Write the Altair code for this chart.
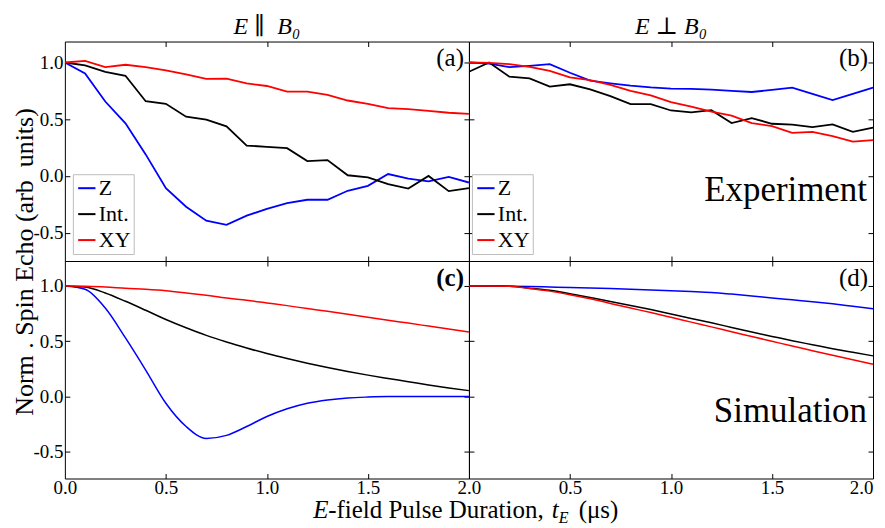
import altair as alt
import pandas as pd

# ---------------- data ----------------
T = [0.0, 0.1, 0.2, 0.3, 0.4, 0.5, 0.6, 0.7, 0.8, 0.9, 1.0,
     1.1, 1.2, 1.3, 1.4, 1.5, 1.6, 1.7, 1.8, 1.9, 2.0]
SERIES = ["Z", "Int.", "XY"]
COLORS = ["#0000ff", "#000000", "#ff0000"]

# (a) Experiment, E || B0
a_Z = [1.0, 0.904, 0.656, 0.464, 0.19, -0.108, -0.271, -0.394, -0.431, -0.35, -0.29,
       -0.239, -0.21, -0.21, -0.131, -0.087, 0.017, -0.023, -0.047, -0.009, -0.058]
a_Int = [1.0, 0.974, 0.918, 0.883, 0.659, 0.636, 0.522, 0.496, 0.437, 0.268, 0.257,
         0.245, 0.131, 0.14, 0.006, -0.012, -0.073, -0.111, 0.0, -0.134, -0.108]
a_XY = [1.0, 1.015, 0.96, 0.98, 0.96, 0.93, 0.895, 0.855, 0.857, 0.816, 0.793,
        0.743, 0.743, 0.714, 0.665, 0.636, 0.598, 0.589, 0.574, 0.557, 0.548]

# (b) Experiment, E _|_ B0
b_Z = [1.0, 0.991, 0.959, 0.971, 0.985, 0.91, 0.84, 0.816, 0.796, 0.781, 0.77,
       0.767, 0.761, 0.749, 0.74, 0.758, 0.778, 0.723, 0.668, 0.723, 0.778]
b_Int = [0.918, 1.0, 0.875, 0.86, 0.787, 0.808, 0.764, 0.703, 0.633, 0.633, 0.577,
         0.56, 0.58, 0.466, 0.51, 0.46, 0.452, 0.431, 0.455, 0.388, 0.426]
b_XY = [1.0, 0.997, 0.985, 0.962, 0.927, 0.869, 0.845, 0.802, 0.749, 0.711, 0.65,
        0.612, 0.566, 0.531, 0.466, 0.44, 0.379, 0.388, 0.35, 0.303, 0.315]

# (c) Simulation, E || B0
c_Z = [1.0, 0.97, 0.80, 0.53, 0.24, -0.06, -0.27, -0.378, -0.35, -0.27, -0.18,
       -0.11, -0.06, -0.03, -0.012, -0.004, 0.0, 0.0, 0.0, 0.0, 0.0]
c_Int = [1.0, 0.99, 0.936, 0.861, 0.78, 0.697, 0.622, 0.553, 0.493, 0.439, 0.389,
         0.344, 0.302, 0.263, 0.227, 0.194, 0.164, 0.135, 0.105, 0.078, 0.054]
c_XY = [1.0, 0.997, 0.991, 0.979, 0.97, 0.957, 0.937, 0.915, 0.89, 0.87, 0.846,
        0.822, 0.795, 0.771, 0.744, 0.717, 0.69, 0.664, 0.637, 0.61, 0.583]

# (d) Simulation, E _|_ B0
d_Z = [1.0, 1.0, 0.998, 0.995, 0.99, 0.985, 0.981, 0.976, 0.97, 0.964, 0.957,
       0.949, 0.94, 0.926, 0.91, 0.891, 0.874, 0.857, 0.838, 0.816, 0.794]
d_Int = [1.0, 0.999, 0.997, 0.98, 0.96, 0.93, 0.895, 0.86, 0.824, 0.786, 0.746,
         0.706, 0.667, 0.625, 0.583, 0.544, 0.505, 0.469, 0.433, 0.4, 0.368]
d_XY = [1.0, 1.0, 0.996, 0.977, 0.953, 0.921, 0.884, 0.842, 0.8, 0.76, 0.717,
        0.673, 0.63, 0.586, 0.543, 0.5, 0.457, 0.415, 0.373, 0.333, 0.293]

COL_TITLES = ["E \u2225\u00a0 B\u2080", "E \u22a5 B\u2080"]
PANEL_TAGS = ["(a)", "(b)", "(c)", "(d)"]
ROW_NOTES = ["Experiment", "Simulation"]
Y_TITLE = "Norm . Spin Echo (arb\u00a0 units)"
X_TITLE_PARTS = ["E", "-field Pulse Duration,", "t", "E", "(\u03bcs)"]
X_TICKS_LEFT = [0.0, 0.5, 1.0, 1.5, 2.0]
X_TICKS_RIGHT = [0.5, 1.0, 1.5, 2.0]
X_TICKS_INNER = [0.5, 1.0, 1.5]
Y_TICKS = [-0.5, 0.0, 0.5, 1.0]

# ---------------- style ----------------
FONT = "Liberation Serif, Times New Roman, Tinos, DejaVu Serif, serif"
W_L, W_R = 405, 405
H_T, H_B = 220, 218
YDOM_T = [-0.75, 1.185]
YDOM_B = [-0.74, 1.225]


def frame(z, i, xy):
    rows = []
    for name, vals in zip(SERIES, [z, i, xy]):
        for t, v in zip(T, vals):
            rows.append({"t": t, "v": v, "s": name})
    return pd.DataFrame(rows)


def text_layer(txt, x, y, size, align="right", style="normal", weight="normal",
               angle=0, baseline="alphabetic"):
    return alt.Chart(pd.DataFrame({"txt": [txt]})).mark_text(
        align=align, baseline=baseline, font=FONT, fontSize=size, fontStyle=style,
        fontWeight=weight, color="black", angle=angle
    ).encode(text="txt:N", x=alt.value(x), y=alt.value(y))


def panel(df, w, h, ydom, xticks, show_x, show_y, legend_x, smooth, tag, tag_y,
          tag_bold, note, note_y, title=None, extra=(), flush=False):
    xs = alt.Scale(domain=[0, 2.0], nice=False, zero=False)
    ys = alt.Scale(domain=ydom, nice=False, zero=False)
    x_main = alt.Axis(values=xticks, labels=show_x, ticks=False, domain=False,
                      grid=False, title=None, format=".1f", labelFont=FONT,
                      labelFontSize=19, labelColor="black", labelPadding=0,
                      labelFlush=flush)
    y_main = alt.Axis(values=Y_TICKS, labels=show_y, ticks=False, domain=False,
                      grid=False, title=None, labelFont=FONT, labelFontSize=19,
                      labelColor="black", labelPadding=2, labelFlush=False,
                      labelExpr="replace(format(datum.value, '.1f'), '\u2212', '-')")
    if legend_x is not None:
        leg = alt.Legend(orient="none", legendX=legend_x, legendY=h - 87, title=None,
                         symbolType="stroke", symbolStrokeWidth=2, symbolSize=300,
                         labelFont=FONT, labelFontSize=22, labelColor="black",
                         labelOffset=1, padding=3, rowPadding=4,
                         strokeColor="#bdbdbd", fillColor="white", cornerRadius=0)
    else:
        leg = None
    color = alt.Color("s:N", scale=alt.Scale(domain=SERIES, range=COLORS),
                      sort=SERIES, legend=leg)
    lines = alt.Chart(df).mark_line(
        strokeWidth=1.5 if smooth else 1.8,
        interpolate="monotone" if smooth else "linear", clip=True
    ).encode(x=alt.X("t:Q", scale=xs, axis=x_main),
             y=alt.Y("v:Q", scale=ys, axis=y_main), color=color)

    def ghost(xo, yo):
        return alt.Chart(df).mark_point(opacity=0).encode(
            x=alt.X("t:Q", scale=xs, axis=alt.Axis(
                orient=xo, offset=-h, values=X_TICKS_INNER, labels=False,
                domain=False, grid=False, ticks=True, tickSize=5,
                tickColor="black", title=None)),
            y=alt.Y("v:Q", scale=ys, axis=alt.Axis(
                orient=yo, offset=-w, values=Y_TICKS, labels=False,
                domain=False, grid=False, ticks=True, tickSize=5,
                tickColor="black", title=None)))

    layers = [lines, ghost("top", "right"), ghost("bottom", "left"),
              text_layer(tag, w - 5, tag_y, 25,
                         weight="bold" if tag_bold else "normal")]
    if note:
        layers.append(text_layer(note, w - 6, note_y, 35))
    layers.extend(extra)
    ch = alt.layer(*layers).resolve_axis(x="independent", y="independent")
    props = dict(width=w, height=h)
    if title is not None:
        props["title"] = alt.Title(title, font=FONT, fontSize=24, fontStyle="italic",
                                   fontWeight="normal", anchor="middle", offset=2,
                                   color="black")
    return ch.properties(**props)


ytitle = text_layer(Y_TITLE, -40, H_T + 1, 26, align="center", angle=270,
                    baseline="middle")
xt_y = H_B + 40
xtitle = [
    text_layer(X_TITLE_PARTS[0], 249, xt_y, 25, align="left", style="italic"),
    text_layer(X_TITLE_PARTS[1], 264, xt_y, 25, align="left"),
    text_layer(X_TITLE_PARTS[2], 488, xt_y, 25, align="left", style="italic"),
    text_layer(X_TITLE_PARTS[3], 495, xt_y + 5, 16, align="left", style="italic"),
    text_layer(X_TITLE_PARTS[4], 515, xt_y, 25, align="left"),
]

pa = panel(frame(a_Z, a_Int, a_XY), W_L, H_T, YDOM_T, X_TICKS_LEFT, False, True, 8,
           False, PANEL_TAGS[0], 25, False, None, 0, title=COL_TITLES[0],
           extra=[ytitle])
pb = panel(frame(b_Z, b_Int, b_XY), W_R, H_T, YDOM_T, X_TICKS_RIGHT, False, False, 3,
           False, PANEL_TAGS[1], 25, False, ROW_NOTES[0], 160, title=COL_TITLES[1])
pc = panel(frame(c_Z, c_Int, c_XY), W_L, H_B, YDOM_B, X_TICKS_LEFT, True, True, None,
           True, PANEL_TAGS[2], 25, True, None, 0, extra=xtitle)
pd_ = panel(frame(d_Z, d_Int, d_XY), W_R, H_B, YDOM_B, X_TICKS_RIGHT, True, False, None,
            True, PANEL_TAGS[3], 25, False, ROW_NOTES[1], 161, flush=True)

chart = alt.concat(pa, pb, pc, pd_, columns=2, spacing=0, bounds="flush").resolve_scale(
    color="independent").resolve_legend(color="independent").configure(
    font=FONT, padding={"left": 3, "top": 6, "right": 0, "bottom": 0}
).configure_view(stroke="black", strokeWidth=1)

chart.save("out.html", embed_options={"renderer": "svg", "actions": False})
